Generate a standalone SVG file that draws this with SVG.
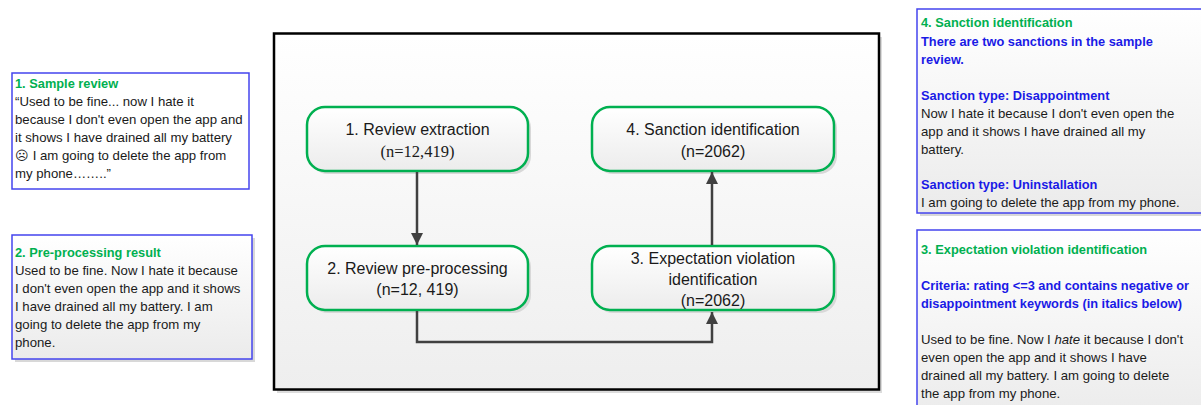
<svg xmlns="http://www.w3.org/2000/svg" width="1201" height="405" viewBox="0 0 1201 405">
<defs>
<linearGradient id="gFrame" x1="0" y1="0" x2="0" y2="1"><stop offset="0" stop-color="#ffffff"/><stop offset="1" stop-color="#eeeeee"/></linearGradient>
<linearGradient id="gNode" x1="0" y1="0" x2="0" y2="1"><stop offset="0" stop-color="#ffffff"/><stop offset="1" stop-color="#ececec"/></linearGradient>
<linearGradient id="gBox" x1="0" y1="0" x2="0" y2="1"><stop offset="0" stop-color="#ffffff"/><stop offset="1" stop-color="#ebebeb"/></linearGradient>
<marker id="arr" markerUnits="userSpaceOnUse" markerWidth="12" markerHeight="14" viewBox="0 0 12 14" refX="12" refY="6" orient="auto">
<path d="M0,0 L12,6 L0,12 Z" fill="#404040"/>
</marker>
<style>
.node{fill:url(#gNode);stroke:#00b050;stroke-width:2.5}
.shadow{fill:#d8d8d8}
.nt{font-family:"Liberation Sans",Arial,sans-serif;font-size:16px;fill:#1a1a1a;text-anchor:middle}
.serif{font-family:"Liberation Serif","Times New Roman",serif;font-size:16.5px}
.box{stroke:#4444ee;stroke-width:1.5}
.bt{font-family:"Liberation Sans",Arial,sans-serif;font-size:13.2px;fill:#1a1a1a}
.g{fill:#00b050;font-weight:bold;font-size:12.8px}
.b{fill:#1a1ae6;font-weight:bold;font-size:12.8px}
.conn{fill:none;stroke:#404040;stroke-width:2.5}
</style>
</defs>

<g id="frame">
<rect x="277" y="37" width="605" height="356" fill="#dcdcdc"/>
<rect x="274" y="33.5" width="605" height="356" fill="url(#gFrame)" stroke="#000" stroke-width="2.5"/>
</g>

<g id="sample-review">
<rect x="12" y="73" width="237" height="116" fill="#ffffff" class="box"/>
<text class="bt" x="15" y="88"><tspan class="g">1. Sample review</tspan>
<tspan x="15" y="106">“Used to be fine... now I hate it</tspan>
<tspan x="15" y="124">because I don't even open the app and</tspan>
<tspan x="15" y="142">it shows I have drained all my battery</tspan>
<tspan x="15" y="160">☹ I am going to delete the app from</tspan>
<tspan x="15" y="178">my phone……..”</tspan></text>
</g>

<g id="preprocessing-result">
<rect x="15" y="238" width="240" height="124" class="shadow"/>
<rect x="12" y="235" width="240" height="124" fill="url(#gBox)" class="box"/>
<text class="bt" x="15" y="257"><tspan class="g">2. Pre-processing result</tspan>
<tspan x="15" y="275">Used to be fine. Now I hate it because</tspan>
<tspan x="15" y="293">I don't even open the app and it shows</tspan>
<tspan x="15" y="311">I have drained all my battery. I am</tspan>
<tspan x="15" y="329">going to delete the app from my</tspan>
<tspan x="15" y="347">phone.</tspan></text>
</g>

<g id="sanction-box">
<rect x="920" y="12" width="290" height="204" class="shadow"/>
<rect x="917" y="9" width="290" height="204" fill="url(#gBox)" class="box"/>
<text class="bt" x="921" y="27"><tspan class="g">4. Sanction identification</tspan>
<tspan x="921" y="46" class="b">There are two sanctions in the sample</tspan>
<tspan x="921" y="64" class="b">review.</tspan>
<tspan x="921" y="100" class="b">Sanction type: Disappointment</tspan>
<tspan x="921" y="118">Now I hate it because I don't  even open the</tspan>
<tspan x="921" y="136">app and it shows I have drained all my</tspan>
<tspan x="921" y="154">battery.</tspan>
<tspan x="921" y="189" class="b">Sanction type: Uninstallation</tspan>
<tspan x="921" y="207">I am going to delete the app from my phone.</tspan></text>
</g>

<g id="expectation-box">
<rect x="917" y="230" width="290" height="190" fill="url(#gBox)" class="box"/>
<text class="bt" x="921" y="254"><tspan class="g">3. Expectation violation identification</tspan>
<tspan x="921" y="290" class="b">Criteria: rating &lt;=3 and contains negative or</tspan>
<tspan x="921" y="308" class="b">disappointment keywords (in italics below)</tspan>
<tspan x="921" y="344">Used to be fine. Now I <tspan font-style="italic">hate</tspan> it because I don't</tspan>
<tspan x="921" y="362">even open the app and it shows I have</tspan>
<tspan x="921" y="380">drained all my battery. I am going to delete</tspan>
<tspan x="921" y="398">the app from my phone.</tspan></text>
</g>

<g id="node1">
<rect x="310" y="110" width="221" height="64" rx="18" class="shadow"/>
<rect x="307" y="107" width="221" height="64" rx="18" class="node"/>
<text class="nt" x="417.5" y="135">1. Review extraction</text>
<text class="nt" x="417.5" y="157"><tspan class="serif">(n=12,419)</tspan></text>
</g>

<g id="node2">
<rect x="310" y="249" width="221" height="64" rx="18" class="shadow"/>
<rect x="307" y="246" width="221" height="64" rx="18" class="node"/>
<text class="nt" x="417.5" y="274">2. Review pre-processing</text>
<text class="nt" x="417.5" y="295">(n=12, 419)</text>
</g>

<g id="node3">
<rect x="595" y="249" width="242" height="64" rx="18" class="shadow"/>
<rect x="592" y="246" width="242" height="64" rx="18" class="node"/>
<text class="nt" x="713" y="264">3. Expectation violation</text>
<text class="nt" x="713" y="285">identification</text>
<text class="nt" x="713" y="306">(n=2062)</text>
</g>

<g id="node4">
<rect x="595" y="110" width="242" height="64" rx="18" class="shadow"/>
<rect x="592" y="107" width="242" height="64" rx="18" class="node"/>
<text class="nt" x="713" y="135">4. Sanction identification</text>
<text class="nt" x="713" y="157">(n=2062)</text>
</g>

<g id="connectors">
<path class="conn" d="M417,172 V245" marker-end="url(#arr)"/>
<path class="conn" d="M417,311 V342 H712 V312" marker-end="url(#arr)"/>
<path class="conn" d="M712,245 V172" marker-end="url(#arr)"/>
</g>
</svg>
